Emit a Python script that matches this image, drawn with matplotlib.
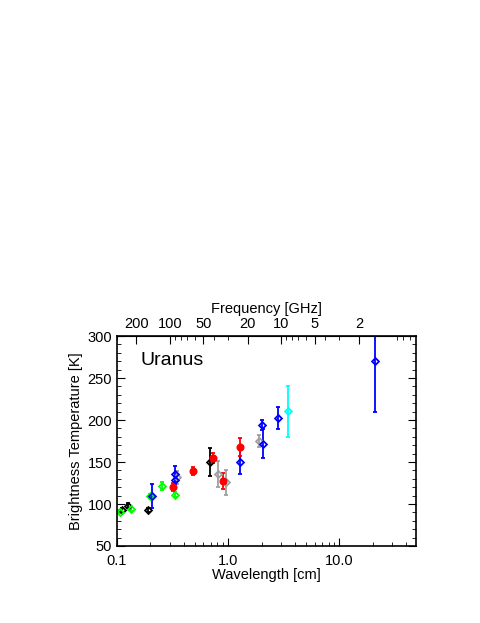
import matplotlib
matplotlib.use('Agg')
import matplotlib.pyplot as plt
from matplotlib.ticker import FixedLocator, NullFormatter, LogLocator, MultipleLocator, FixedFormatter

plt.rcParams['font.family'] = ['Liberation Sans', 'DejaVu Sans']

# wavelength [cm], brightness temperature [K], error [K]
black_wl = [0.111, 0.1256, 0.19, 0.688]
black_tb = [92.5, 98, 93, 149.6]
black_err = [3, 3, 2, 16.5]

green_wl = [0.106, 0.133, 0.198, 0.256, 0.33]
green_tb = [90.8, 94, 109.5, 121.4, 111]
green_err = [2, 2, 2, 5, 3]

blue_wl = [0.208, 0.33, 0.33, 1.28, 2.02, 2.05, 2.8, 20.8]
blue_tb = [109.5, 135.7, 128.6, 150, 194.4, 171.8, 202.4, 270]
blue_err = [14, 9, 5, 14, 6, 17, 13.5, 60]

red_wl = [0.317, 0.486, 0.73, 0.906, 1.29]
red_tb = [120.6, 139, 154.8, 127.4, 168]
red_err = [5, 5, 6, 9, 11]

grey_wl = [0.35, 0.81, 0.95, 1.91]
grey_tb = [131.8, 135.7, 125.8, 175.4]
grey_err = [8, 16, 15, 7]

cyan_wl = [3.48]
cyan_tb = [210.3]
cyan_err = [30]

freq_ticks = [200, 100, 50, 20, 10, 5, 2]

fig = plt.figure(figsize=(4.81, 6.23), dpi=100)
ax = fig.add_axes([0.243, 0.1236, 0.622, 0.337])

def draw(wl, tb, err, color, marker, filled):
    ax.errorbar(wl, tb, yerr=err, fmt=marker, color=color, ecolor=color,
                mfc=color if filled else 'none', mec=color, ms=4.5 if filled else 3.5,
                mew=1.3, elinewidth=1.3, capsize=1.5, capthick=1.3)

draw(grey_wl, grey_tb, grey_err, '#a0a0a0', 'D', False)
draw(black_wl, black_tb, black_err, 'black', 'D', False)
draw(green_wl, green_tb, green_err, '#00ff00', 'D', False)
draw(blue_wl, blue_tb, blue_err, '#0000ff', 'D', False)
draw(red_wl, red_tb, red_err, '#ff0000', 'o', True)
draw(cyan_wl, cyan_tb, cyan_err, '#00ffff', 'D', False)

ax.set_xscale('log')
ax.set_xlim(0.1, 49)
ax.set_ylim(50, 300)
ax.xaxis.set_major_locator(FixedLocator([0.1, 1.0, 10.0]))
ax.xaxis.set_major_formatter(FixedFormatter(['0.1', '1.0', '10.0']))
ax.xaxis.set_minor_locator(LogLocator(subs=range(2, 10)))
ax.xaxis.set_minor_formatter(NullFormatter())
ax.yaxis.set_major_locator(MultipleLocator(50))
ax.yaxis.set_minor_locator(MultipleLocator(10))
ax.tick_params(which='both', direction='in', top=False, right=True, labelsize=10.5)
ax.tick_params(which='major', length=6)
ax.tick_params(which='minor', length=3)
ax.tick_params(axis='x', pad=6)
ax.set_xlabel('Wavelength [cm]', fontsize=10.5, labelpad=0)
ax.set_ylabel('Brightness Temperature [K]', fontsize=10.5, labelpad=3)

top = ax.secondary_xaxis('top', functions=(lambda x: 30.0 / x, lambda f: 30.0 / f))
top.xaxis.set_major_locator(FixedLocator(freq_ticks))
top.xaxis.set_major_formatter(FixedFormatter([str(f) for f in freq_ticks]))
top.xaxis.set_minor_locator(LogLocator(subs=range(2, 10)))
top.xaxis.set_minor_formatter(NullFormatter())
top.tick_params(which='both', direction='in', labelsize=10.5)
top.tick_params(which='major', length=6)
top.tick_params(which='minor', length=3)
top.set_xlabel('Frequency [GHz]', fontsize=10.5, labelpad=3)

for s in ax.spines.values():
    s.set_linewidth(1.2)

ax.text(0.08, 0.885, 'Uranus', transform=ax.transAxes, fontsize=14, va='center')

fig.savefig('out.png', dpi=100)
